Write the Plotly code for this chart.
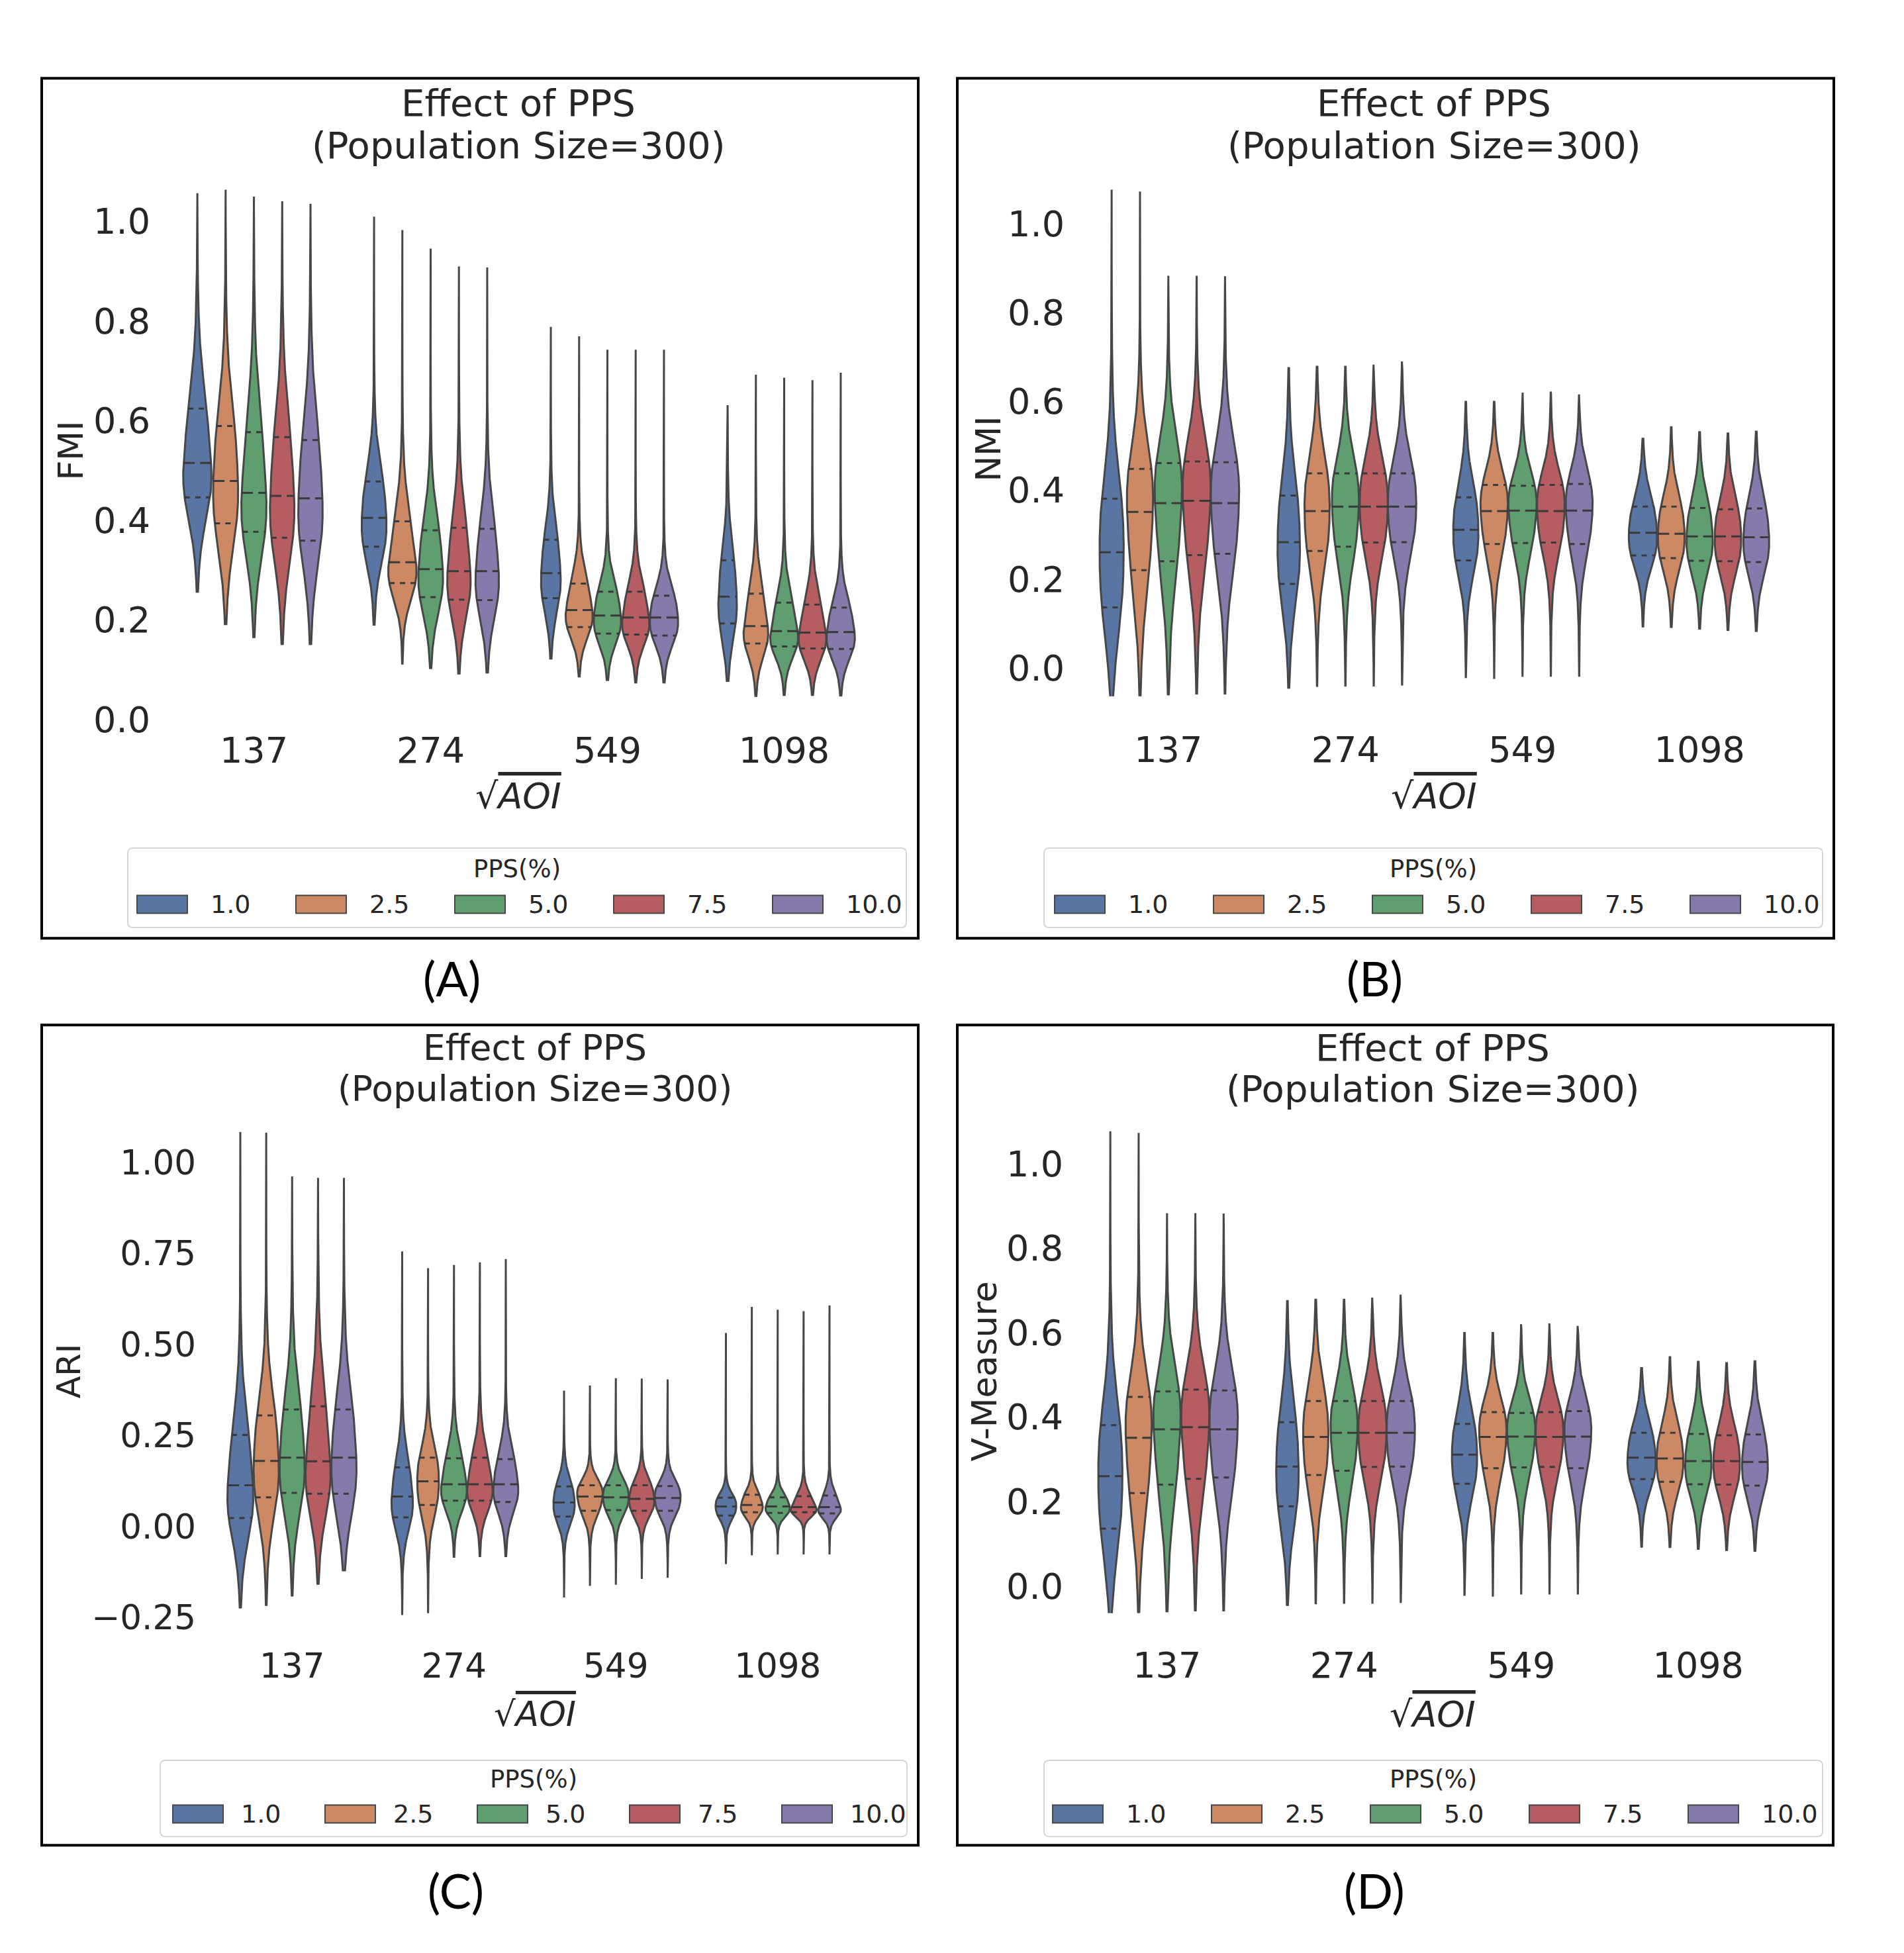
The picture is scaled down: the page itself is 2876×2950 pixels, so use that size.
import numpy as np
import plotly.graph_objects as go

W, H = 2876, 2950
OFF = 8      # default page margin around the plot div
SY = 1.0104  # the photographed page comes out a little taller than the reference

# === data ===
aoi_labels = ["137", "274", "549", "1098"]
pps_levels = ["1.0", "2.5", "5.0", "7.5", "10.0"]
pps_colors = ["#5975a4", "#cc8963", "#5f9e6e", "#b55d60", "#857aab"]

# one row per AOI group, one value per PPS level
# lo / hi = ends of the violin, q1 / med / q3 = the dashed quartile lines
fmi_lo = [[0.255, 0.190, 0.164, 0.150, 0.150],
          [0.189, 0.111, 0.102, 0.091, 0.093],
          [0.121, 0.085, 0.078, 0.073, 0.073],
          [0.076, 0.046, 0.048, 0.048, 0.047]]
fmi_q1 = [[0.446, 0.394, 0.377, 0.365, 0.359],
          [0.347, 0.274, 0.246, 0.241, 0.240],
          [0.244, 0.186, 0.173, 0.171, 0.169],
          [0.193, 0.153, 0.147, 0.143, 0.142]]
fmi_med = [[0.515, 0.479, 0.455, 0.449, 0.444],
           [0.405, 0.316, 0.302, 0.298, 0.298],
           [0.294, 0.220, 0.209, 0.205, 0.205],
           [0.247, 0.188, 0.178, 0.175, 0.176]]
fmi_q3 = [[0.624, 0.589, 0.577, 0.567, 0.561],
          [0.478, 0.398, 0.380, 0.385, 0.383],
          [0.361, 0.273, 0.257, 0.257, 0.249],
          [0.320, 0.253, 0.235, 0.231, 0.225]]
fmi_hi = [[1.056, 1.063, 1.049, 1.040, 1.035],
          [1.009, 0.982, 0.945, 0.909, 0.907],
          [0.788, 0.769, 0.742, 0.742, 0.742],
          [0.631, 0.692, 0.686, 0.681, 0.696]]

nmi_lo = [[-0.064, -0.064, -0.062, -0.060, -0.060],
          [-0.047, -0.043, -0.042, -0.042, -0.040],
          [-0.023, -0.025, -0.020, -0.020, -0.020],
          [0.091, 0.090, 0.086, 0.083, 0.081]]
nmi_q1 = [[0.136, 0.220, 0.240, 0.254, 0.257],
          [0.189, 0.263, 0.273, 0.282, 0.283],
          [0.242, 0.279, 0.281, 0.282, 0.279],
          [0.253, 0.247, 0.241, 0.240, 0.238]]
nmi_med = [[0.260, 0.351, 0.371, 0.376, 0.371],
           [0.283, 0.353, 0.363, 0.363, 0.363],
           [0.311, 0.353, 0.354, 0.353, 0.354],
           [0.304, 0.302, 0.296, 0.296, 0.294]]
nmi_q3 = [[0.381, 0.448, 0.461, 0.465, 0.463],
          [0.388, 0.438, 0.438, 0.438, 0.438],
          [0.384, 0.412, 0.410, 0.412, 0.414],
          [0.363, 0.363, 0.360, 0.357, 0.359]]
nmi_hi = [[1.077, 1.073, 0.883, 0.883, 0.882],
          [0.675, 0.678, 0.678, 0.683, 0.690],
          [0.599, 0.599, 0.620, 0.622, 0.616],
          [0.516, 0.542, 0.531, 0.528, 0.532]]

ari_lo = [[-0.225, -0.218, -0.192, -0.160, -0.123],
          [-0.243, -0.238, -0.086, -0.084, -0.084],
          [-0.195, -0.163, -0.160, -0.144, -0.141],
          [-0.103, -0.079, -0.077, -0.077, -0.077]]
ari_q1 = [[0.023, 0.080, 0.092, 0.090, 0.090],
          [0.025, 0.059, 0.071, 0.071, 0.067],
          [0.027, 0.043, 0.045, 0.043, 0.043],
          [0.030, 0.039, 0.037, 0.039, 0.036]]
ari_med = [[0.113, 0.180, 0.189, 0.179, 0.189],
           [0.082, 0.124, 0.116, 0.116, 0.116],
           [0.066, 0.082, 0.080, 0.076, 0.078],
           [0.055, 0.059, 0.055, 0.053, 0.053]]
ari_q3 = [[0.251, 0.305, 0.321, 0.330, 0.321],
          [0.162, 0.189, 0.187, 0.189, 0.185],
          [0.110, 0.113, 0.113, 0.113, 0.111],
          [0.079, 0.087, 0.080, 0.083, 0.085]]
ari_hi = [[1.083, 1.081, 0.961, 0.957, 0.957],
          [0.755, 0.709, 0.718, 0.725, 0.734],
          [0.373, 0.387, 0.407, 0.406, 0.404],
          [0.531, 0.603, 0.595, 0.591, 0.607]]

# V-Measure panel is identical to the NMI one in the source figure
vm_lo, vm_q1, vm_med, vm_q3, vm_hi = nmi_lo, nmi_q1, nmi_med, nmi_q3, nmi_hi

metrics = [
    ("FMI", fmi_lo, fmi_q1, fmi_med, fmi_q3, fmi_hi),
    ("NMI", nmi_lo, nmi_q1, nmi_med, nmi_q3, nmi_hi),
    ("ARI", ari_lo, ari_q1, ari_med, ari_q3, ari_hi),
    ("V-Measure", vm_lo, vm_q1, vm_med, vm_q3, vm_hi),
]

yticks_unit = [0.0, 0.2, 0.4, 0.6, 0.8, 1.0]
yticks_ari = [-0.25, 0.0, 0.25, 0.5, 0.75, 1.0]

# === layout, in pixels of the 2876x2950 reference ===
panel_layout = [
    dict(tag="(A)", plot=(250, 1318, 248, 1090), frame=(63, 1387, 118, 1416),
         title=(783, 155, 219), xtitle=(783, 1202), ylab=(107, 680),
         leg_box=(193, 1369, 1280, 1400), leg_x0=207, leg_step=240, leg_dx=109,
         leg_ty=1311, leg_iy=1365, tag_xy=(682, 1476), yticks=yticks_unit, fmt=".1f",
         fs=1.0),
    dict(tag="(B)", plot=(1631, 2701, 248, 1089), frame=(1446, 2770, 118, 1416),
         title=(2166, 155, 219), xtitle=(2166, 1202), ylab=(1493, 678),
         leg_box=(1577, 2753, 1280, 1400), leg_x0=1593, leg_step=240, leg_dx=109,
         leg_ty=1311, leg_iy=1365, tag_xy=(2076, 1476), yticks=yticks_unit, fmt=".1f",
         fs=1.0),
    dict(tag="(C)", plot=(319, 1297, 1672, 2474), frame=(63, 1387, 1547, 2785),
         title=(808, 1581, 1643), xtitle=(808, 2587), ylab=(104, 2070),
         leg_box=(242, 1370, 2657, 2772), leg_x0=261, leg_step=230, leg_dx=101,
         leg_ty=2685, leg_iy=2738, tag_xy=(688, 2853), yticks=yticks_ari, fmt=".2f",
         fs=0.955),
    dict(tag="(D)", plot=(1629, 2699, 1671, 2471), frame=(1446, 2769, 1547, 2785),
         title=(2164, 1581, 1643), xtitle=(2164, 2587), ylab=(1487, 2070),
         leg_box=(1577, 2753, 2657, 2772), leg_x0=1590, leg_step=240, leg_dx=109,
         leg_ty=2685, leg_iy=2738, tag_xy=(2076, 2853), yticks=yticks_unit, fmt=".1f",
         fs=1.0),
]

TEXT = "#262626"
EDGE = "#474747"
HUE_W = 0.8 / len(pps_levels)
FW, FH = W - 2 * OFF, 2930  # keep the page inside the window


def px(x):
    return (x - OFF) / FW


def py(y):
    return 1 - (y * SY - OFF) / FH


def rounded_box(x0, x1, y0, y1, r=8):
    # matplotlib-like legend frame with rounded corners, in paper units
    rx, ry = r / FW, r / FH
    a, b, c, d = px(x0), px(x1), py(y1), py(y0)
    return (f"M{a + rx},{c} L{b - rx},{c} Q{b},{c} {b},{c + ry} "
            f"L{b},{d - ry} Q{b},{d} {b - rx},{d} L{a + rx},{d} Q{a},{d} {a},{d - ry} "
            f"L{a},{c + ry} Q{a},{c} {a + rx},{c} Z")


def violin_profile(lo, q1, med, q3, hi, step=0.001):
    # smooth density shape that honours the read quartiles and the violin ends
    y = np.arange(lo, hi + step / 2, step)
    ga, gb = med - q1, q3 - med
    da, db = 0.25 / ga, 0.25 / gb
    raw = np.where(y < q1, da * np.exp(-(q1 - y) / (0.75 * ga)),
          np.where(y < med, da,
          np.where(y <= q3, db, db * np.exp(-(y - q3) / (0.75 * gb)))))
    sigma = 0.3 * (q3 - q1)
    half = int(np.ceil(4 * sigma / step))
    t = np.arange(-half, half + 1) * step
    kern = np.exp(-0.5 * (t / sigma) ** 2)
    kern /= kern.sum()
    padded = np.concatenate([np.zeros(half), raw, np.zeros(half)])
    dens = np.convolve(padded, kern, mode="valid")
    dens /= np.trapezoid(dens, y)
    return y, dens


fig = go.Figure()
shapes = []
annotations = []

for k, (name, lo, q1, med, q3, hi) in enumerate(metrics):
    lay = panel_layout[k]
    fs = lay["fs"]
    sfx = "" if k == 0 else str(k + 1)
    xa, ya = "x" + sfx, "y" + sfx

    quart_x, quart_y, med_x, med_y = [], [], [], []
    for g in range(len(aoi_labels)):
        profiles = [violin_profile(lo[g][h], q1[g][h], med[g][h], q3[g][h], hi[g][h])
                    for h in range(len(pps_levels))]
        peak = max(d.max() for _, d in profiles)  # area scaling inside each AOI group
        for h, (y, d) in enumerate(profiles):
            center = g - 0.4 + HUE_W * (h + 0.5)
            w = d / peak * HUE_W / 2
            fig.add_trace(go.Scatter(
                x=np.concatenate([center + w, (center - w)[::-1]]),
                y=np.concatenate([y, y[::-1]]),
                mode="lines", fill="toself", fillcolor=pps_colors[h],
                line=dict(color=EDGE, width=3),
                name=pps_levels[h], showlegend=False, hoverinfo="skip",
                xaxis=xa, yaxis=ya,
            ))
            for q, xs, ys in ((q1[g][h], quart_x, quart_y), (q3[g][h], quart_x, quart_y),
                              (med[g][h], med_x, med_y)):
                hw = np.interp(q, y, d) / peak * HUE_W / 2
                xs += [center - hw, center + hw, None]
                ys += [q, q, None]

    fig.add_trace(go.Scatter(x=quart_x, y=quart_y, mode="lines",
                             line=dict(color="#3a3a3a", width=3, dash="8px,8px"),
                             showlegend=False, hoverinfo="skip", xaxis=xa, yaxis=ya))
    fig.add_trace(go.Scatter(x=med_x, y=med_y, mode="lines",
                             line=dict(color="#3a3a3a", width=3, dash="17px,8px"),
                             showlegend=False, hoverinfo="skip", xaxis=xa, yaxis=ya))

    # axes
    all_lo = min(min(r) for r in lo)
    all_hi = max(max(r) for r in hi)
    pad = 0.05 * (all_hi - all_lo)
    x0, x1, y0, y1 = lay["plot"]
    fig.update_layout({
        ("xaxis" + sfx): dict(
            domain=[px(x0), px(x1)], anchor=ya, range=[-0.5, len(aoi_labels) - 0.5],
            tickvals=list(range(len(aoi_labels))), ticktext=aoi_labels,
            showgrid=False, zeroline=False, showline=False, ticks="",
            ticklabelstandoff=6,
            tickfont=dict(family="DejaVu Sans", size=54 * fs, color=TEXT)),
        ("yaxis" + sfx): dict(
            domain=[py(y1), py(y0)], anchor=xa, range=[all_lo - pad, all_hi + pad],
            tickvals=lay["yticks"], tickformat=lay["fmt"],
            showgrid=False, zeroline=False, showline=False, ticks="",
            ticklabelstandoff=22,
            tickfont=dict(family="DejaVu Sans", size=54 * fs, color=TEXT)),
    })

    # frame around the panel
    fx0, fx1, fy0, fy1 = lay["frame"]
    shapes.append(dict(type="rect", xref="paper", yref="paper",
                       x0=px(fx0), x1=px(fx1), y0=py(fy1), y1=py(fy0),
                       line=dict(color="black", width=4), fillcolor="rgba(0,0,0,0)"))

    # titles and axis labels
    tx, ty1, ty2 = lay["title"]
    for txt, tyy in (("Effect of PPS", ty1), ("(Population Size=300)", ty2)):
        annotations.append(dict(text=txt, x=px(tx), y=py(tyy), xref="paper", yref="paper",
                                showarrow=False, xanchor="center", yanchor="middle",
                                font=dict(family="DejaVu Sans", size=56 * fs, color=TEXT)))
    annotations.append(dict(
        text='√<span style="text-decoration:overline"><i>AOI</i></span>',
        x=px(lay["xtitle"][0]), y=py(lay["xtitle"][1]), xref="paper", yref="paper",
        showarrow=False, xanchor="center", yanchor="middle",
        font=dict(family="DejaVu Sans", size=54 * fs, color=TEXT)))
    annotations.append(dict(
        text=name, textangle=-90,
        x=px(lay["ylab"][0]), y=py(lay["ylab"][1]), xref="paper", yref="paper",
        showarrow=False, xanchor="center", yanchor="middle",
        font=dict(family="DejaVu Sans", size=52 * fs, color=TEXT)))
    annotations.append(dict(
        text=lay["tag"], x=px(lay["tag_xy"][0]), y=py(lay["tag_xy"][1]),
        xref="paper", yref="paper", showarrow=False, xanchor="center", yanchor="middle",
        font=dict(family="Lato", size=72, color="black")))

    # legend box drawn in the matplotlib style
    bx0, bx1, by0, by1 = lay["leg_box"]
    shapes.append(dict(type="path", xref="paper", yref="paper",
                       path=rounded_box(bx0, bx1, by0, by1),
                       line=dict(color="#d6d6d6", width=2), fillcolor="white"))
    annotations.append(dict(
        text="PPS(%)", x=px((bx0 + bx1) / 2), y=py(lay["leg_ty"]),
        xref="paper", yref="paper", showarrow=False, xanchor="center", yanchor="middle",
        font=dict(family="DejaVu Sans", size=37, color=TEXT)))
    for h, lvl in enumerate(pps_levels):
        sx = lay["leg_x0"] + h * lay["leg_step"]
        iy = lay["leg_iy"]
        shapes.append(dict(type="rect", xref="paper", yref="paper",
                           x0=px(sx), x1=px(sx + 76), y0=py(iy + 13.5), y1=py(iy - 13.5),
                           line=dict(color=EDGE, width=2), fillcolor=pps_colors[h]))
        annotations.append(dict(
            text=lvl, x=px(sx + lay["leg_dx"]), y=py(iy), xref="paper", yref="paper",
            showarrow=False, xanchor="left", yanchor="middle",
            font=dict(family="DejaVu Sans", size=38, color=TEXT)))

fig.update_layout(
    width=FW, height=FH,
    margin=dict(l=0, r=0, t=0, b=0),
    paper_bgcolor="white", plot_bgcolor="white",
    font=dict(family="DejaVu Sans", color=TEXT),
    showlegend=False,
    shapes=shapes,
    annotations=annotations,
)

fig.write_html("out.html")
